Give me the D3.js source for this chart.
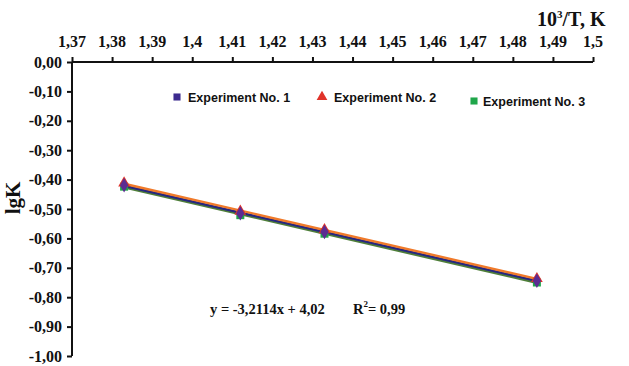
<!DOCTYPE html>
<html>
<head>
<meta charset="utf-8">
<script src="https://cdn.jsdelivr.net/npm/d3@7"></script>
<style>
  body { margin: 0; background: #fff; }
  svg { display: block; }
</style>
</head>
<body>
<svg id="chart"></svg>
<script>
// data
const invT = [1.383, 1.412, 1.433, 1.486];
const exp1 = [-0.419, -0.515, -0.578, -0.744];
const exp2 = [-0.412, -0.508, -0.571, -0.737];
const exp3 = [-0.424, -0.521, -0.584, -0.750];
const seriesNames = ["Experiment No. 1", "Experiment No. 2", "Experiment No. 3"];
const xTicks = [1.37, 1.38, 1.39, 1.4, 1.41, 1.42, 1.43, 1.44, 1.45, 1.46, 1.47, 1.48, 1.49, 1.5];
const yTicks = [0, -0.1, -0.2, -0.3, -0.4, -0.5, -0.6, -0.7, -0.8, -0.9, -1.0];

const width = 629, height = 366;
const svg = d3.select("#chart").attr("width", width).attr("height", height);

const x = d3.scaleLinear().domain([1.37, 1.5]).range([72, 593]);
const y = d3.scaleLinear().domain([0, -1]).range([62, 356]);

const serif = "'Liberation Serif', 'Times New Roman', serif";
const sans = "'Liberation Sans', Arial, sans-serif";

// axes: lines from d3, labels placed by hand from the same scales
const xAxis = svg.append("g")
    .attr("transform", "translate(0,62)")
    .call(d3.axisTop(x).tickValues(xTicks).tickSize(5).tickFormat(""));

const yAxis = svg.append("g")
    .attr("transform", "translate(72,0)")
    .call(d3.axisLeft(y).tickValues(yTicks).tickSize(5).tickFormat(""));

[xAxis, yAxis].forEach(a => {
    a.select(".domain").attr("stroke", "#111").attr("stroke-width", 2);
    a.selectAll(".tick line").attr("stroke", "#111").attr("stroke-width", 2);
});
yAxis.select(".domain").attr("d", "M0,62V356");
xAxis.select(".domain").attr("d", "M72,0H593");

svg.append("g").selectAll("text")
    .data(xTicks).enter().append("text")
    .attr("x", d => x(d)).attr("y", 47)
    .attr("text-anchor", "middle")
    .attr("font-family", serif).attr("font-weight", "bold").attr("font-size", 16)
    .attr("fill", "#111")
    .text(d => String(d).replace(".", ","));

svg.append("g").selectAll("text")
    .data(yTicks).enter().append("text")
    .attr("x", 62).attr("y", d => y(d) + 5.5)
    .attr("text-anchor", "end")
    .attr("font-family", serif).attr("font-weight", "bold").attr("font-size", 16)
    .attr("fill", "#111")
    .text(d => d3.format(".2f")(d).replace("−", "-").replace(".", ","));

// axis titles
const xt = svg.append("text")
    .attr("x", 537).attr("y", 26)
    .attr("font-family", serif).attr("font-weight", "bold").attr("font-size", 20)
    .attr("fill", "#111");
xt.append("tspan").text("10");
xt.append("tspan").attr("dy", -8).attr("font-size", 11).text("3");
xt.append("tspan").attr("dy", 8).text("/T, K");

svg.append("text")
    .attr("transform", "translate(20,198) rotate(-90)")
    .attr("text-anchor", "middle")
    .attr("font-family", serif).attr("font-weight", "bold").attr("font-size", 21)
    .attr("fill", "#111")
    .text("lgK");

// series
const series = [
    {name: seriesNames[0], values: exp1, line: "#262680", mark: "#5b2c91", shape: "diamond"},
    {name: seriesNames[1], values: exp2, line: "#f07a2a", mark: "#e0332a", shape: "triangle"},
    {name: seriesNames[2], values: exp3, line: "#4f7f3a", mark: "#1fa64a", shape: "square"}
];

function fit(xs, ys) {
    const mx = d3.mean(xs), my = d3.mean(ys);
    const b = d3.sum(xs, (v, i) => (v - mx) * (ys[i] - my)) / d3.sum(xs, v => (v - mx) * (v - mx));
    return v => my + b * (v - mx);
}

// trend lines: green first, then blue, orange on top
[2, 0, 1].forEach(i => {
    const s = series[i];
    const f = fit(invT, s.values);
    const ends = [invT[0], invT[invT.length - 1]];
    svg.append("line")
        .attr("x1", x(ends[0])).attr("y1", y(f(ends[0])))
        .attr("x2", x(ends[1])).attr("y2", y(f(ends[1])))
        .attr("stroke", s.line).attr("stroke-width", 2.4);
});

const symbolFor = {
    diamond: d3.symbol().type(d3.symbolDiamond).size(60),
    triangle: d3.symbol().type(d3.symbolTriangle).size(60),
    square: d3.symbol().type(d3.symbolSquare).size(64)
};

[2, 1, 0].forEach(i => {
    const s = series[i];
    svg.append("g").selectAll("path")
        .data(invT.map((t, j) => [t, s.values[j]]))
        .enter().append("path")
        .attr("transform", d => `translate(${x(d[0])},${y(d[1])})`)
        .attr("d", symbolFor[s.shape])
        .attr("fill", s.mark);
});

// legend
const legend = [
    {x: 177, y: 97, shape: "square", color: "#3d2b8f", tx: 188, ty: 102},
    {x: 322, y: 97, shape: "triangle", color: "#e0332a", tx: 334, ty: 102},
    {x: 474, y: 101, shape: "square", color: "#1fa64a", tx: 483, ty: 106}
];
legend.forEach((l, i) => {
    svg.append("path")
        .attr("transform", `translate(${l.x},${l.y})`)
        .attr("d", d3.symbol().type(l.shape === "square" ? d3.symbolSquare : d3.symbolTriangle).size(50))
        .attr("fill", l.color);
    svg.append("text")
        .attr("x", l.tx).attr("y", l.ty)
        .attr("font-family", sans).attr("font-weight", "bold").attr("font-size", 12.5)
        .attr("fill", "#111")
        .text(seriesNames[i]);
});

// regression note
svg.append("text")
    .attr("x", 210).attr("y", 314)
    .attr("font-family", serif).attr("font-weight", "bold").attr("font-size", 14.5)
    .attr("fill", "#111")
    .text("y = -3,2114x + 4,02");
const r2 = svg.append("text")
    .attr("x", 353).attr("y", 314)
    .attr("font-family", serif).attr("font-weight", "bold").attr("font-size", 14.5)
    .attr("fill", "#111");
r2.append("tspan").text("R");
r2.append("tspan").attr("dy", -7).attr("font-size", 9).text("2");
r2.append("tspan").attr("dy", 7).text("= 0,99");
</script>
</body>
</html>
